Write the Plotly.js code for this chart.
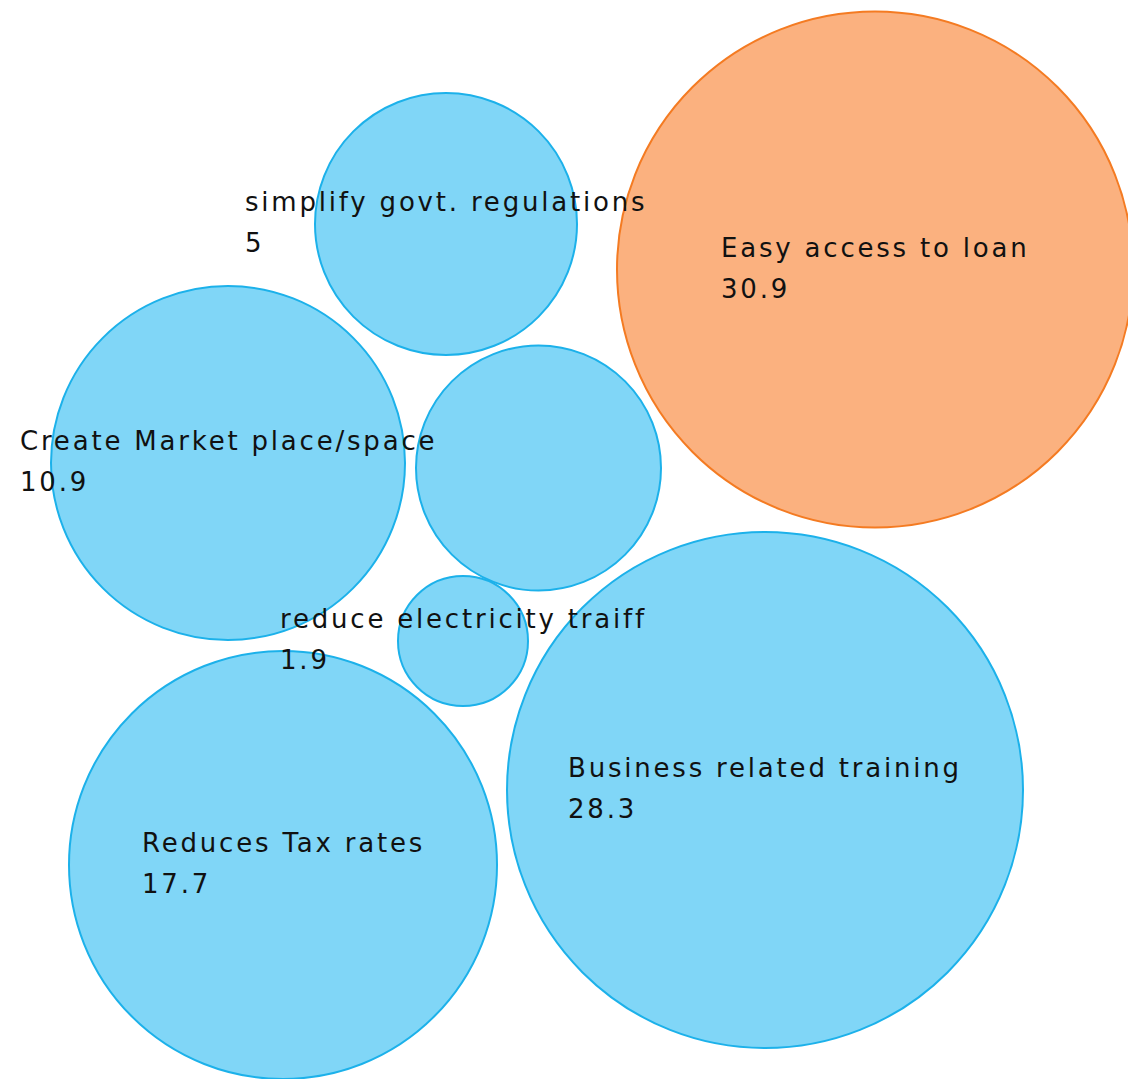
<!DOCTYPE html>
<html><head><meta charset="utf-8">
<script src="https://cdn.plot.ly/plotly-3.0.1.min.js"></script>
<style>
html,body{margin:0;padding:0;background:#fff;overflow:hidden;}
.annotation-text{letter-spacing:2.8px;}
</style></head><body>
<div id="chart" style="width:1128px;height:1079px;"></div>
<script>
// ---- data ----
const categories = ["Easy access to loan", "Business related training", "Reduces Tax rates",
  "Create Market place/space", "simplify govt. regulations", "reduce electricity traiff", ""];
const values = [30.9, 28.3, 17.7, 10.9, 5, 1.9, null];
const highlighted = "Easy access to loan";

// ---- packed-bubble layout (pixel positions and radii) ----
const bubbleX = [875, 765, 283, 228, 446, 463, 538.5];
const bubbleY = [269.5, 790, 865, 463, 224, 641, 468];
const bubbleR = [259, 259, 215, 178, 132, 66, 123.5];

const W = 1128, H = 1079;
const FONT_SIZE = 26, LINE_GAP = 41;
const blueFill = "#80D6F7", blueLine = "#1CB1EA";
const orangeFill = "#FBB17F", orangeLine = "#F47B22";
const lineW = 2;

const fills = categories.map(c => c === highlighted ? orangeFill : blueFill);
const lines = categories.map(c => c === highlighted ? orangeLine : blueLine);

const trace = {
  type: "scatter", mode: "markers",
  x: bubbleX, y: bubbleY,
  text: categories,
  hoverinfo: "none",
  marker: {
    size: bubbleR.map(r => 2 * r - lineW),
    sizemode: "diameter",
    color: fills,
    opacity: 1,
    line: {color: lines, width: lineW}
  }
};

const annotations = [];
categories.forEach((c, i) => {
  if (values[i] === null || c === "") return;
  annotations.push({
    x: bubbleX[i], y: bubbleY[i], xref: "x", yref: "y",
    text: c + "<br>" + values[i],
    showarrow: false, xanchor: "center", yanchor: "middle", align: "left",
    yshift: 1,
    font: {family: "DejaVu Sans, Verdana, sans-serif", size: FONT_SIZE, color: "#111111"}
  });
});

const layout = {
  width: W, height: H,
  margin: {l: 0, r: 0, t: 0, b: 0, pad: 0},
  paper_bgcolor: "#ffffff", plot_bgcolor: "#ffffff",
  showlegend: false,
  xaxis: {range: [0, W], visible: false, fixedrange: true},
  yaxis: {range: [H, 0], visible: false, fixedrange: true},
  annotations: annotations
};

Plotly.newPlot("chart", [trace], layout, {staticPlot: true, displayModeBar: false}).then(() => {
  const base = 1.3 * FONT_SIZE;
  const extra = (LINE_GAP - base) / 2;
  document.querySelectorAll(".annotation-text").forEach(t => {
    const ls = t.querySelectorAll("tspan.line");
    if (ls.length === 2) {
      ls[0].setAttribute("dy", (-extra) + "px");
      ls[1].setAttribute("dy", (base + extra) + "px");
    }
  });
});
</script>
</body></html>
